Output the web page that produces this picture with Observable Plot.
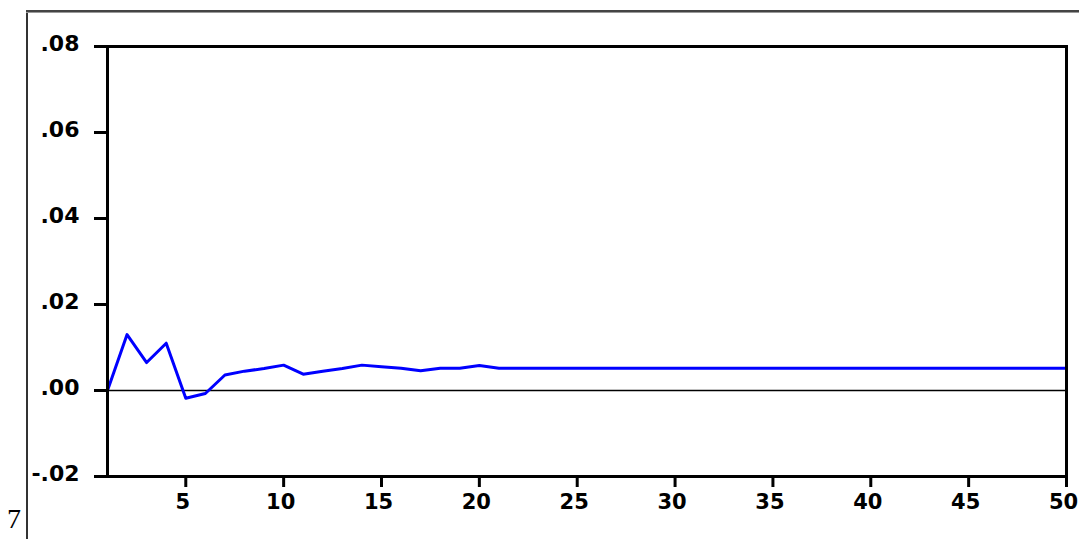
<!DOCTYPE html>
<html>
<head>
<meta charset="utf-8">
<script src="https://cdn.jsdelivr.net/npm/d3@7"></script>
<script src="https://cdn.jsdelivr.net/npm/@observablehq/plot@0.6"></script>
<style>
  html, body { margin: 0; padding: 0; background: #fff; }
  #wrap { position: relative; width: 1079px; height: 539px; overflow: hidden; }
  #wrap svg { position: absolute; left: 0; top: 0; }
  .edgeL { position: absolute; left: 26px; top: 11px; width: 2px; height: 528px; background: #333; }
  .edgeT { position: absolute; left: 26px; top: 10px; width: 1053px; height: 2px; background: #444; border-bottom: 1px solid #999; }
  .corner { position: absolute; left: 7px; top: 505px; font-family: "Liberation Serif", serif; font-size: 28px; line-height: 28px; height: 28px; color: #000; }
</style>
</head>
<body>
<div id="wrap">
  <div class="edgeL"></div>
  <div class="edgeT"></div>
  <div class="corner">7</div>
</div>
<script>
const periods = [1,2,3,4,5,6,7,8,9,10,11,12,13,14,15,16,17,18,19,20,21,22,23,24,25,26,27,28,29,30,31,32,33,34,35,36,37,38,39,40,41,42,43,44,45,46,47,48,49,50];
const responses = [0.0000,0.0130,0.0065,0.0110,-0.0018,-0.0007,0.0036,0.0045,0.0051,0.0059,
                   0.0038,0.0045,0.0051,0.0059,0.0055,0.0052,0.0046,0.0052,0.0052,0.0058,
                   0.0052,0.0052,0.0052,0.0052,0.0052,0.0052,0.0052,0.0052,0.0052,0.0052,
                   0.0052,0.0052,0.0052,0.0052,0.0052,0.0052,0.0052,0.0052,0.0052,0.0052,
                   0.0052,0.0052,0.0052,0.0052,0.0052,0.0052,0.0052,0.0052,0.0052,0.0052];
const xTicks = [5,10,15,20,25,30,35,40,45,50];
const yTicks = [-0.02,0,0.02,0.04,0.06,0.08];
const yTickLabels = ["-.02",".00",".02",".04",".06",".08"];

const data = periods.map((p, i) => ({period: p, value: responses[i]}));

const chart = Plot.plot({
  width: 1079,
  height: 539,
  marginLeft: 107,
  marginRight: 13,
  marginTop: 46,
  marginBottom: 63,
  style: {fontFamily: "DejaVu Sans, sans-serif", background: "transparent", color: "#000"},
  x: {domain: [1, 50]},
  y: {domain: [-0.02, 0.08]},
  marks: [
    Plot.ruleY([0], {stroke: "#000", strokeWidth: 1.3}),
    Plot.line(data, {x: "period", y: "value", stroke: "#0000ff", strokeWidth: 3}),
    Plot.frame({stroke: "#000", strokeWidth: 3}),
    // y tick marks
    Plot.axisY({ticks: yTicks, tickFormat: () => "", tickSize: 13, strokeWidth: 3, label: null}),
    // y tick labels
    Plot.axisY({ticks: yTicks, tickFormat: d => yTickLabels[yTicks.indexOf(d)], tickSize: 0, tickPadding: 28,
                fontSize: 22, fontWeight: "bold", fontFamily: "DejaVu Sans", dy: -3, label: null}),
    // x tick marks
    Plot.axisX({ticks: xTicks, tickFormat: () => "", tickSize: 11, strokeWidth: 3, label: null}),
    // x tick labels
    Plot.axisX({ticks: xTicks, tickFormat: d => String(d), tickSize: 0, tickPadding: 18,
                fontSize: 21, fontWeight: "bold", fontFamily: "DejaVu Sans", dx: -3, label: null})
  ]
});
document.getElementById("wrap").prepend(chart);
</script>
</body>
</html>
